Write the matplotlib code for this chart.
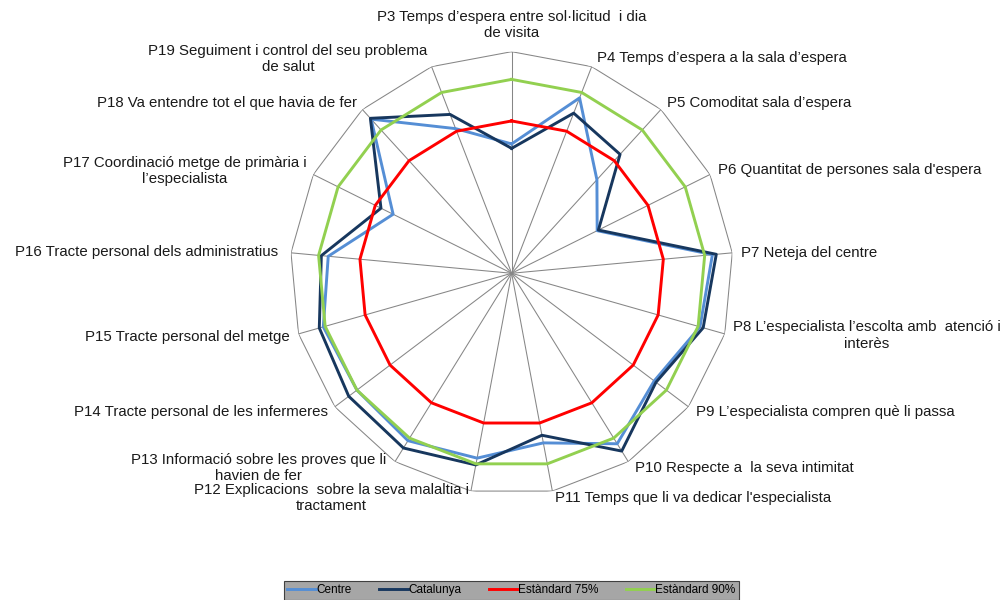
import numpy as np
import matplotlib
matplotlib.use("Agg")
import matplotlib.pyplot as plt

plt.rcParams["font.family"] = ["Liberation Sans", "DejaVu Sans"]

# --- data (scale 20..100) ---
labels = [
    "P3 Temps d’espera entre sol·licitud  i dia\nde visita",
    "P4 Temps d’espera a la sala d’espera",
    "P5 Comoditat sala d’espera",
    "P6 Quantitat de persones sala d'espera",
    "P7 Neteja del centre",
    "P8 L’especialista l’escolta amb  atenció i\ninterès",
    "P9 L’especialista compren què li passa",
    "P10 Respecte a  la seva intimitat",
    "P11 Temps que li va dedicar l'especialista",
    "P12 Explicacions  sobre la seva malaltia i\ntractament",
    "P13 Informació sobre les proves que li\nhavien de fer",
    "P14 Tracte personal de les infermeres",
    "P15 Tracte personal del metge",
    "P16 Tracte personal dels administratius",
    "P17 Coordinació metge de primària i\nl’especialista",
    "P18 Va entendre tot el que havia de fer",
    "P19 Seguiment i control del seu problema\nde salut",
]
centre    = [66.7, 87.9, 65.7, 54.5, 92.8, 90.7, 84.5, 92.4, 82.3, 87.9, 91.1, 90.0, 90.7, 86.5, 67.8, 95.3, 76.0]
catalunya = [65.1, 82.0, 78.1, 55.0, 94.2, 91.9, 85.3, 95.5, 79.5, 90.4, 94.2, 93.7, 92.2, 89.0, 72.7, 95.7, 81.5]
std75     = [75] * 17
std90     = [90] * 17

series = [("Centre", centre, "#558ED5"),
          ("Catalunya", catalunya, "#17375E"),
          ("Estàndard 75%", std75, "#FF0000"),
          ("Estàndard 90%", std90, "#92D050")]

# label placement: (ha, dx px, dy px) relative to the outer vertex
lab_pos = [("center", 0, 27), ("left", 5, 8.5), ("left", 6, 6.5), ("left", 8, 4.5),
           ("left", 9, 0), ("left", 8, -1.5), ("left", 8, -5), ("left", 7, -6.5),
           ("left", 3, -7), ("right", -2, -7), ("right", -9, -6.5), ("right", -7, -5),
           ("right", -8.5, -3), ("right", -13, 1), ("right", -7, 3.5), ("right", -5, 6.5),
           ("right", -4, 8)]

n = len(labels)
theta = np.arange(n) * 2 * np.pi / n
tc = np.append(theta, theta[0])

fig = plt.figure(figsize=(10.04, 6), dpi=100)
ax = fig.add_axes([0.2889, 0.1752, 0.4414, 0.7387], projection="polar")
ax.set_theta_offset(np.pi / 2)
ax.set_theta_direction(-1)
ax.set_rlim(20, 100)
ax.grid(False)
ax.spines["polar"].set_visible(False)
ax.set_xticks([]); ax.set_yticks([])

# polygon grid + spokes
ax.plot(tc, [100] * (n + 1), color="#868686", lw=0.75, zorder=1)
for t in theta:
    ax.plot([t, t], [20, 100], color="#868686", lw=0.75, zorder=1)

handles = []
for name, vals, col in series:
    h, = ax.plot(tc, list(vals) + [vals[0]], color=col, lw=2.1, label=name, zorder=3)
    handles.append(h)

for t, lab, (ha, dx, dy) in zip(theta, labels, lab_pos):
    ax.annotate(lab, xy=(t, 100), xytext=(dx, dy), textcoords="offset pixels",
                ha=ha, va="center", multialignment="center",
                fontsize=10.8, color="#1a1a1a", annotation_clip=False)

leg = fig.legend(handles=handles, loc="upper center", bbox_to_anchor=(0.5095, 0.032),
                 ncol=4, fontsize=8.5, frameon=True, fancybox=False,
                 handlelength=2.4, handletextpad=0.1, columnspacing=2.3,
                 borderpad=0.3, borderaxespad=0)
leg.get_frame().set_facecolor("#a6a6a6")
leg.get_frame().set_edgecolor("#404040")
leg.get_frame().set_linewidth(0.8)
leg.get_frame().set_alpha(1)

fig.savefig("out.png", dpi=100)
